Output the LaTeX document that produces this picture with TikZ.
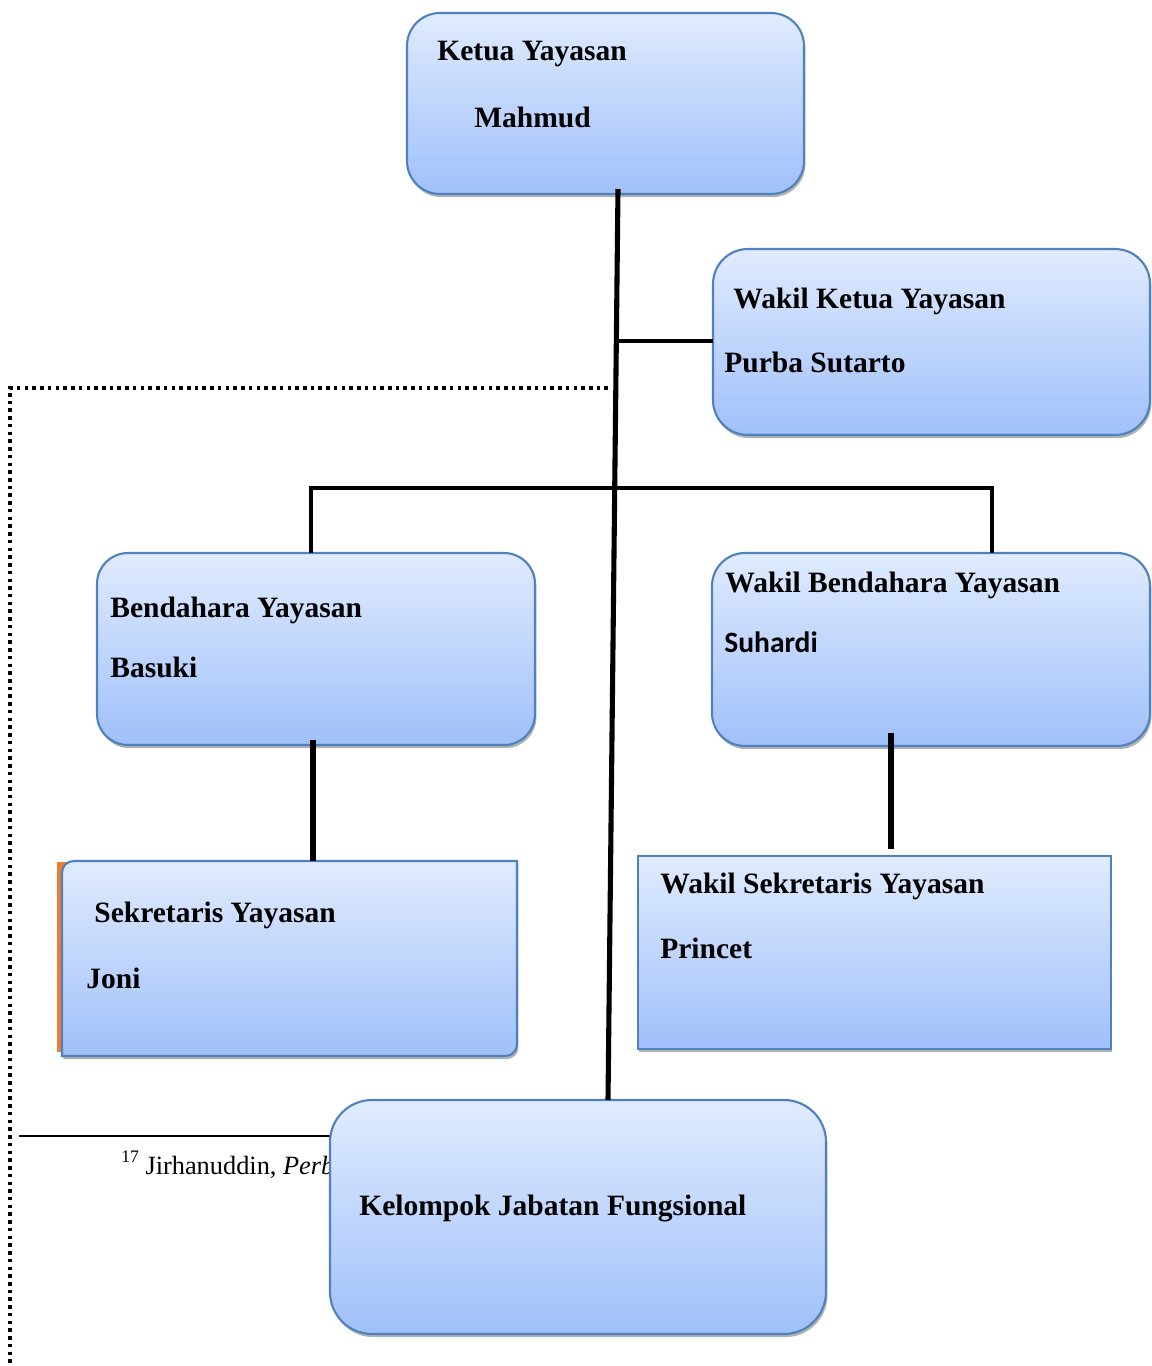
\documentclass[tikz,border=0pt]{standalone}
\usepackage{fontspec}
\setmainfont{Liberation Serif}
\newfontfamily\calfont{Carlito}
\usetikzlibrary{shadows,calc}
\definecolor{boxtop}{RGB}{224,235,254}
\definecolor{boxbot}{RGB}{160,192,250}
\definecolor{boxline}{RGB}{79,129,189}
\definecolor{orgline}{RGB}{237,125,49}
\def\pxu{0.02cm}
\tikzset{
  boxshade/.style={top color=boxtop, bottom color=boxbot, draw=boxline, line width=1.2pt,
    drop shadow={shadow xshift=0.8pt, shadow yshift=-1.8pt, opacity=0.3, fill=black}},
  orgbox/.style={boxshade, inner sep=0pt, outer sep=0pt, anchor=north west},
  ghost/.style={inner sep=0pt, outer sep=0pt, anchor=north west},
  lbl/.style={anchor=base west, inner sep=0pt, font=\bfseries\fontsize{16.8}{20}\selectfont},
  conn/.style={line width=2.9pt, black},
  connthin/.style={line width=2.3pt, black},
  dotline/.style={line width=2pt, dash pattern=on 2pt off 2.4pt, black}
}
\begin{document}
\begin{tikzpicture}[x=0.02cm, y=-0.02cm]
\useasboundingbox (0,0) rectangle (1152,1366);

% footnote
\draw[line width=1.1pt] (19,1136) -- (400,1136);
\node[anchor=base west, inner sep=0pt, font=\fontsize{15}{18}\selectfont] (fn) at (121,1174)
  {\raisebox{0.42em}{\fontsize{10}{12}\selectfont 17} Jirhanuddin, \textit{Perb}};

% dotted line
\coordinate (dA) at (608,388);
\coordinate (dB) at (10,388);
\coordinate (dC) at (10,1366);
\draw[dotline] (dA) -- (dB) -- (dC);

% boxes
\node[orgbox, rounded corners=0.66cm, minimum width=397*\pxu, minimum height=181*\pxu] (ketua) at (407,13) {};
\node[orgbox, rounded corners=0.7cm, minimum width=437*\pxu, minimum height=186*\pxu] (wketua) at (713,249) {};
\node[orgbox, rounded corners=0.62cm, minimum width=438*\pxu, minimum height=192*\pxu] (bend) at (97,553) {};
\node[orgbox, rounded corners=0.66cm, minimum width=438*\pxu, minimum height=193*\pxu] (wbend) at (712,553) {};
\node[orgbox, rounded corners=0pt, minimum width=473*\pxu, minimum height=193*\pxu] (wsek) at (638,856) {};
\node[orgbox, rounded corners=0.84cm, minimum width=496*\pxu, minimum height=234*\pxu] (kel) at (330,1100) {};

% sekretaris box (orange edge behind, two rounded corners)
\fill[orgline] (57,862) rectangle (515,1052);
\node[ghost, minimum width=455*\pxu, minimum height=195*\pxu] (sek) at (62,861) {};
\path[boxshade] (74,861) -- (517,861) -- (517,1044) .. controls (517,1051) and (512,1056) .. (505,1056)
  -- (62,1056) -- (62,873) .. controls (62,866) and (67,861) .. (74,861) -- cycle;

% labels
\node[lbl] (t1) at (437,60) {Ketua Yayasan};
\node[lbl] (t2) at (474,127) {Mahmud};
\node[lbl] (t3) at (733,308) {Wakil Ketua Yayasan};
\node[lbl] (t4) at (724,372) {Purba Sutarto};
\node[lbl] (t5) at (110,617) {Bendahara Yayasan};
\node[lbl] (t6) at (110,677) {Basuki};
\node[lbl] (t7) at (725,592) {Wakil Bendahara Yayasan};
\node[lbl, font=\calfont\bfseries\fontsize{16.8}{20}\selectfont] (t8) at (724,652) {Suhardi};
\node[lbl] (t9) at (94,922) {Sekretaris Yayasan};
\node[lbl] (t10) at (86,988) {Joni};
\node[lbl] (t11) at (660,893) {Wakil Sekretaris Yayasan};
\node[lbl] (t12) at (660,958) {Princet};
\node[lbl] (t13) at (359,1215) {Kelompok Jabatan Fungsional};

% connectors
\coordinate (mtop) at (618,189);
\coordinate (mbot) at (608,1100);
\draw[conn] (mtop) -- (mbot);
\coordinate (j1) at ($(mtop)!0.1670!(mbot)$);
\draw[connthin] (j1) -- (j1 -| wketua.west);
\coordinate (bl) at (311,488);
\coordinate (br) at (992,488);
\draw[connthin] (bend.north -| bl) -- (bl) -- (br) -- (wbend.north -| br);
\coordinate (c1) at (313,740);
\draw[conn] (c1) -- (sek.north -| c1);
\coordinate (c2) at (891,733);
\coordinate (c3) at (891,849);
\draw[conn] (c2) -- (c3);
\end{tikzpicture}
\end{document}
